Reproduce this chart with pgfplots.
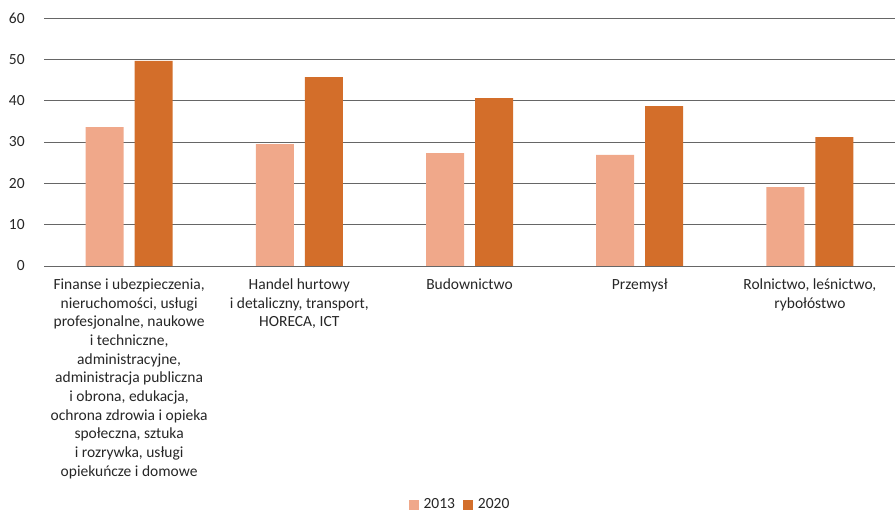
\documentclass[border=0pt]{standalone}
\usepackage{fontspec}
\setmainfont{Carlito}
\usepackage{pgfplots}
\pgfplotsset{compat=1.18}
\definecolor{c13}{RGB}{240,168,138}
\definecolor{c20}{RGB}{211,110,42}
\definecolor{txt}{RGB}{38,38,38}
\begin{document}
\fontsize{15.5bp}{18.7bp}\selectfont
\begin{tikzpicture}[x=1bp,y=1bp]
\begin{axis}[
  at={(44bp,247bp)}, anchor=south west,
  scale only axis, width=851bp, height=248bp,
  ymin=0, ymax=60, ytick={0,10,...,60},
  xmin=-0.5, xmax=4.5, xtick={0,...,4},
  xticklabels={
    {Finanse i ubezpieczenia,\\nieruchomości, usługi\\profesjonalne, naukowe\\i techniczne,\\administracyjne,\\administracja publiczna\\i obrona, edukacja,\\ochrona zdrowia i opieka\\społeczna, sztuka\\i rozrywka, usługi\\opiekuńcze i domowe},
    {Handel hurtowy\\i detaliczny, transport,\\HORECA, ICT},
    {Budownictwo},
    {Przemysł},
    {Rolnictwo, leśnictwo,\\rybołóstwo}},
  ybar=11bp, bar width=38bp,
  ymajorgrids, grid style={black!60, line width=0.8bp},
  axis line style={draw=none}, major tick style={draw=none},
  /pgf/number format/assume math mode=true,
  ticklabel style={font=\fontsize{15.5bp}{18.7bp}\selectfont, text=txt},
  yticklabel style={anchor=east, xshift=-14bp},
  xticklabel style={align=center, anchor=north, yshift=-3bp},
  legend style={at={(0.4888,-0.9637)}, anchor=center, legend columns=2, draw=none,
    font=\fontsize{15.5bp}{18.7bp}\selectfont, text=txt,
    /tikz/every even column/.append style={column sep=6bp},
    /tikz/every odd column/.append style={column sep=3bp}},
  legend image code/.code={\path[#1, draw=none] (0bp,-5bp) rectangle (10bp,5bp);},
]
\addplot[fill=c13, draw=none] coordinates {(0,33.6) (1,29.5) (2,27.3) (3,26.9) (4,19.1)};
\addplot[fill=c20, draw=none] coordinates {(0,49.6) (1,45.7) (2,40.6) (3,38.7) (4,31.2)};
\legend{2013,2020}
\end{axis}
\pgfresetboundingbox
\path[use as bounding box] (0,0) rectangle (895,513);
\end{tikzpicture}
\end{document}
